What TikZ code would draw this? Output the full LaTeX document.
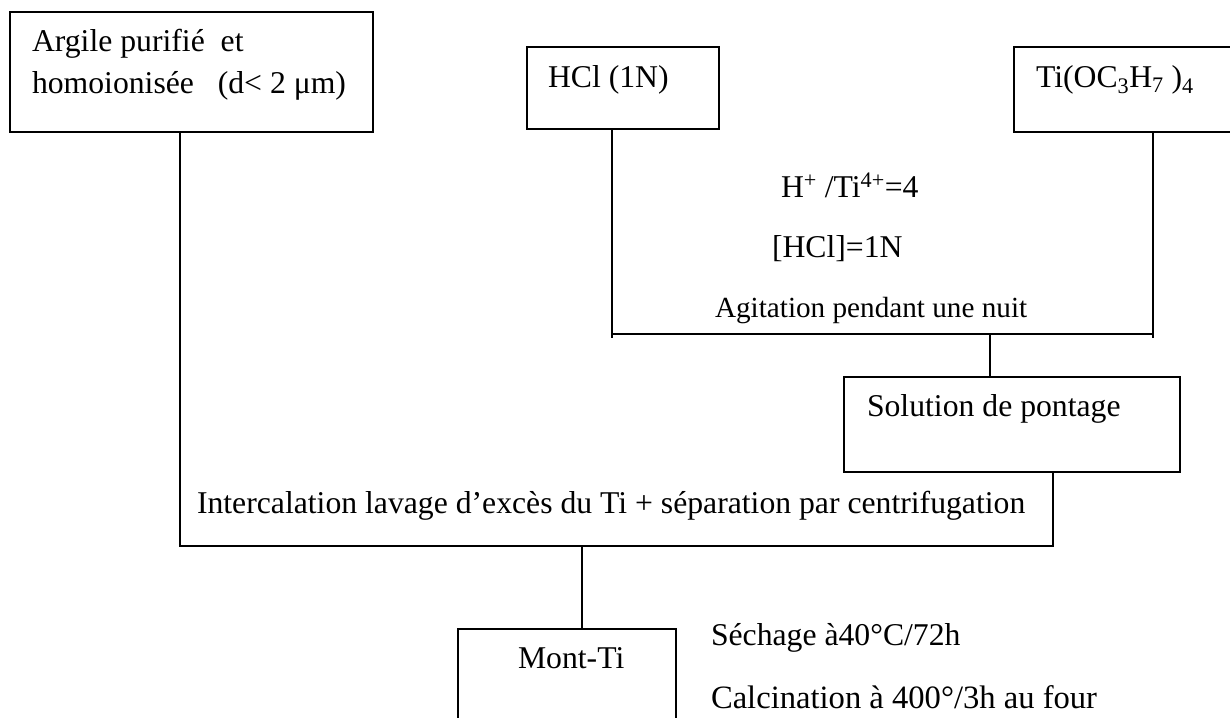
\documentclass[tikz,border=0pt]{standalone}
\usepackage{fontspec}
\setmainfont{Liberation Serif}
\begin{document}
\begin{tikzpicture}[x=1pt,y=-1pt,
  box/.style={draw=black,line width=1.6pt,rectangle,inner sep=0pt,outer sep=0pt,anchor=north west},
  txt/.style={anchor=base west,inner sep=0pt,outer sep=0pt,font=\fontsize{31.7}{36}\selectfont},
  wire/.style={draw=black,line width=1.3pt}]
\useasboundingbox (0,0) rectangle (1230,717);
\clip (0,0) rectangle (1230,717);
\fill[white] (0,0) rectangle (1230,717);

% boxes
\node[box,minimum width=363pt,minimum height=120pt] (argile) at (10,12) {};
\node[box,minimum width=192pt,minimum height=82pt] (hcl) at (527,47) {};
\node[box,minimum width=226pt,minimum height=85pt] (ti) at (1014,47) {};
\node[box,minimum width=336pt,minimum height=95pt] (solution) at (844,377) {};
\node[box,minimum width=218pt,minimum height=100pt] (mont) at (458,629) {};

% box texts
\node[txt] (argileA) at (32,52) {Argile purifié\ \ et};
\node[txt] (argileB) at (32,93) {homoionisée\ \ \ (d< 2 μm)};
\node[txt] (hcltxt) at (548,87) {HCl (1N)};
\node[txt] (titxt) at (1036,87) {Ti(OC\textsubscript{3}H\textsubscript{7} )\textsubscript{4}};
\node[txt] (soltxt) at (867,416) {Solution de pontage};
\node[txt] (monttxt) at (518,668) {Mont-Ti};

% process conditions
\node[txt] (ratio) at (781,197) {H\textsuperscript{+} /Ti\textsuperscript{4+}=4};
\node[txt] (conc) at (772,257) {[HCl]=1N};
\node[txt,font=\fontsize{29.2}{34}\selectfont] (stir) at (715,317) {Agitation pendant une nuit};
\node[txt] (inter) at (197,513) {Intercalation lavage d’excès du Ti + séparation par centrifugation};
\node[txt] (dry) at (711,645) {Séchage à40°C/72h};
\node[txt,font=\fontsize{32.6}{38}\selectfont] (calc) at (711,708) {Calcination à 400°/3h au four};

% junction points
\coordinate (hclfoot) at (612,338);
\coordinate (tifoot) at (1153,338);
\coordinate (mix) at (990,334);
\coordinate (argfoot) at (180,546);
\coordinate (solfoot) at (1053,546);
\coordinate (montin) at (582,546);

% mixing of HCl and titanium alkoxide
\draw[wire] (hcl.south -| hclfoot) -- (hclfoot);
\draw[wire] (ti.south -| tifoot) -- (tifoot);
\draw[wire] (hclfoot |- mix) -- (tifoot |- mix);
\draw[wire] (mix) -- (mix |- solution.north);

% intercalation into the clay
\draw[wire] (argile.south -| argfoot) -- (argfoot) -- (solfoot) -- (solution.south -| solfoot);
\draw[wire] (montin) -- (montin |- mont.north);
\end{tikzpicture}
\end{document}
